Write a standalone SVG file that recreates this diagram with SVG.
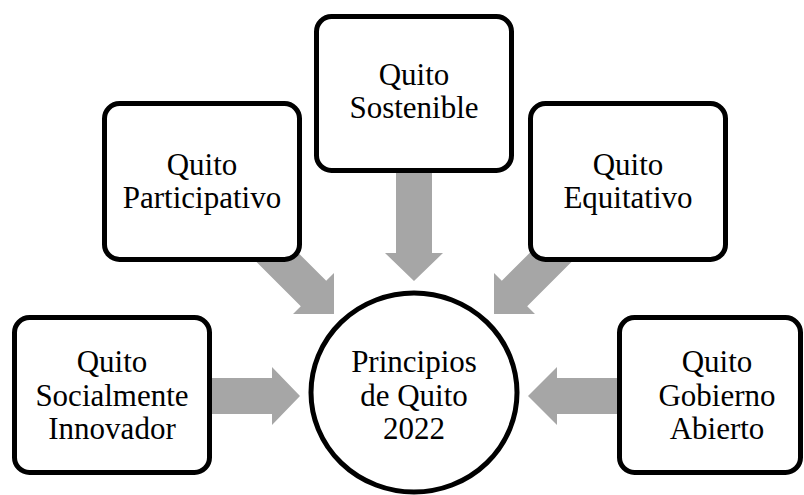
<svg xmlns="http://www.w3.org/2000/svg" width="804" height="495" viewBox="0 0 804 495">
<style>
.box{fill:#fff;stroke:#000;stroke-width:5}
.arr{fill:#A6A6A6;stroke:none}
text{font-family:"Liberation Serif","Times New Roman",serif;font-size:31px;fill:#000;text-anchor:middle}
</style>
<rect width="804" height="495" fill="#fff"/>
<g id="connectors">
<polygon class="arr" points="200,378 272,378 272,367 300,396 272,425 272,414 200,414"/>
<polygon class="arr" points="628,378 557,378 557,367 528,396 557,425 557,414 628,414"/>
<polygon class="arr" points="396,160 432,160 432,253 443,253 414,281 385,253 396,253"/>
<polygon class="arr" points="276.2,230.8 326.2,280.8 334,273 334,314 293,314 300.8,306.2 250.8,256.2"/>
<polygon class="arr" points="551.8,230.8 501.8,280.8 494,273 494,314 535,314 527.2,306.2 577.2,256.2"/>
</g>
<g id="participativo">
<rect class="box" x="104.5" y="103.5" width="195" height="156" rx="15"/>
<text x="202" y="175">Quito</text>
<text x="202" y="208">Participativo</text>
</g>
<g id="sostenible">
<rect class="box" x="316.5" y="16.5" width="195" height="154" rx="15"/>
<text x="414" y="85">Quito</text>
<text x="414" y="118">Sostenible</text>
</g>
<g id="equitativo">
<rect class="box" x="530.5" y="103.5" width="195" height="156" rx="15"/>
<text x="628" y="175">Quito</text>
<text x="628" y="208">Equitativo</text>
</g>
<g id="socialmente">
<rect class="box" x="14.5" y="317.5" width="195" height="155" rx="15"/>
<text x="112" y="372">Quito</text>
<text x="112" y="405.5">Socialmente</text>
<text x="112" y="439">Innovador</text>
</g>
<g id="gobierno">
<rect class="box" x="619.5" y="317.5" width="181" height="155" rx="15"/>
<text x="717" y="372">Quito</text>
<text x="717" y="405.5">Gobierno</text>
<text x="717" y="439">Abierto</text>
</g>
<g id="principios">
<ellipse class="box" cx="414" cy="392.5" rx="103" ry="99.5"/>
<text x="414" y="372">Principios</text>
<text x="414" y="405.5">de Quito</text>
<text x="414" y="439">2022</text>
</g>
</svg>
